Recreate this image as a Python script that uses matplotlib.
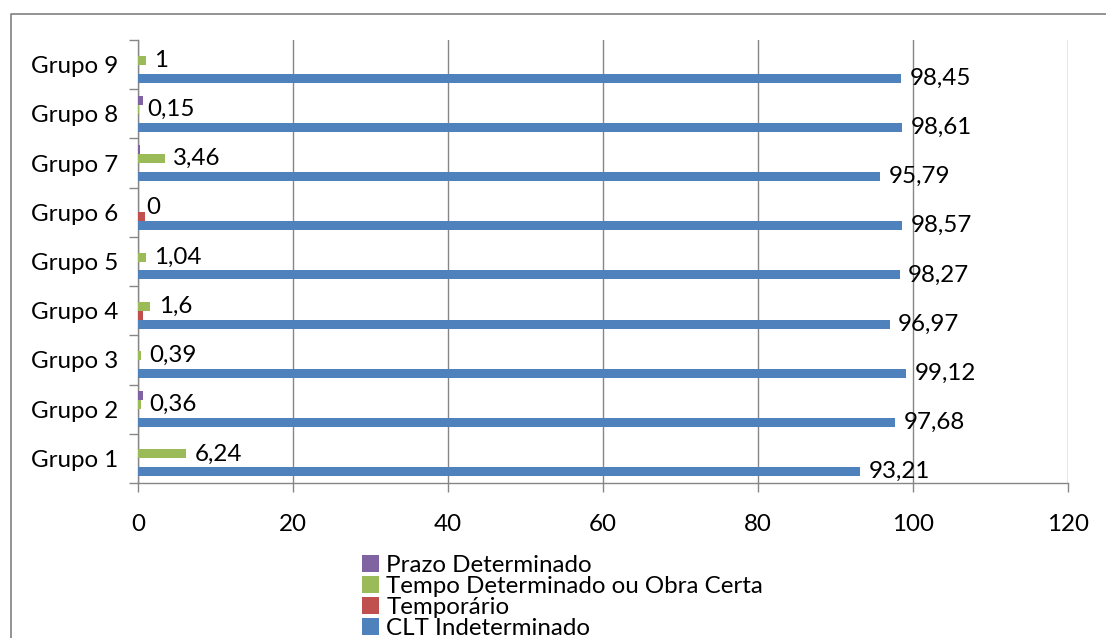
import matplotlib
matplotlib.use("Agg")
import matplotlib.pyplot as plt
from matplotlib.lines import Line2D
import numpy as np

plt.rcParams['font.family'] = ['Lato', 'DejaVu Sans']

groups = ["Grupo 1", "Grupo 2", "Grupo 3", "Grupo 4", "Grupo 5",
          "Grupo 6", "Grupo 7", "Grupo 8", "Grupo 9"]
clt_indeterminado = [93.21, 97.68, 99.12, 96.97, 98.27, 98.57, 95.79, 98.61, 98.45]
temporario = [0.0, 0.0, 0.0, 0.7, 0.0, 0.9, 0.0, 0.0, 0.0]
tempo_determinado = [6.24, 0.36, 0.39, 1.6, 1.04, 0.0, 3.46, 0.15, 1.0]
prazo_determinado = [0.0, 0.6, 0.0, 0.0, 0.0, 0.0, 0.3, 0.7, 0.0]

series_names = ["CLT Indeterminado", "Temporário",
                "Tempo Determinado ou Obra Certa", "Prazo Determinado"]
series_values = [clt_indeterminado, temporario, tempo_determinado, prazo_determinado]
series_colors = ["#4F81BD", "#C0504D", "#9BBB59", "#8064A2"]
labelled = [True, False, True, False]

x_ticks = [0, 20, 40, 60, 80, 100, 120]

W, H = 1106, 638
fig = plt.figure(figsize=(W / 100, H / 100), dpi=100)
ax = fig.add_axes([138 / W, 1 - 483 / H, (1068 - 138) / W, (483 - 40) / H])

fs = 17.4
grey = "#868686"
bar_h = 1 / 5.5
y = np.arange(len(groups))

bars = []
for i, (name, vals, col, lab) in enumerate(zip(series_names, series_values,
                                               series_colors, labelled)):
    pos = y + (i - 1.5) * bar_h
    b = ax.barh(pos, vals, height=bar_h, color=col, label=name, zorder=3)
    bars.append(b)
    if lab:
        for yy, v in zip(pos, vals):
            txt = f"{v:g}".replace(".", ",")
            ax.annotate(txt, (v, yy), xytext=(6, 0), textcoords="offset points",
                        ha="left", va="center", fontsize=fs, color="black",
                        zorder=4)

ax.set_xlim(0, 120)
ax.set_ylim(-0.5, len(groups) - 0.5)
ax.set_xticks(x_ticks)
ax.set_xticklabels([str(t) for t in x_ticks], fontsize=fs)
ax.set_yticks(y)
ax.set_yticklabels(groups, fontsize=fs)
ax.set_yticks(np.arange(-0.5, len(groups)), minor=True)

ax.tick_params(axis="y", which="major", length=0, pad=14.4)
ax.tick_params(axis="y", which="minor", length=6.5, width=1, color=grey,
               direction="out")
ax.tick_params(axis="x", which="major", length=6.5, width=1, color=grey,
               direction="out", pad=16)

ax.grid(axis="x", color=grey, linewidth=1, zorder=0)
for s in ["top", "right"]:
    ax.spines[s].set_visible(False)
for s in ["left", "bottom"]:
    ax.spines[s].set_color(grey)
    ax.spines[s].set_linewidth(1)

# chart frame
fig.add_artist(Line2D([10.5 / W, 10.5 / W, 1.0], [0.0, 1 - 13.5 / H, 1 - 13.5 / H],
                      transform=fig.transFigure, color="#8a8a8a", linewidth=1.3))

handles = bars[::-1]
labels = series_names[::-1]
fig.legend(handles, labels, loc="upper left",
           bbox_to_anchor=(362 / W, 1 - 555 / H), frameon=False,
           fontsize=fs, handlelength=0.72, handleheight=0.72,
           handletextpad=0.28, labelspacing=0.0, borderpad=0,
           borderaxespad=0)

fig.savefig("out.png", dpi=100)
